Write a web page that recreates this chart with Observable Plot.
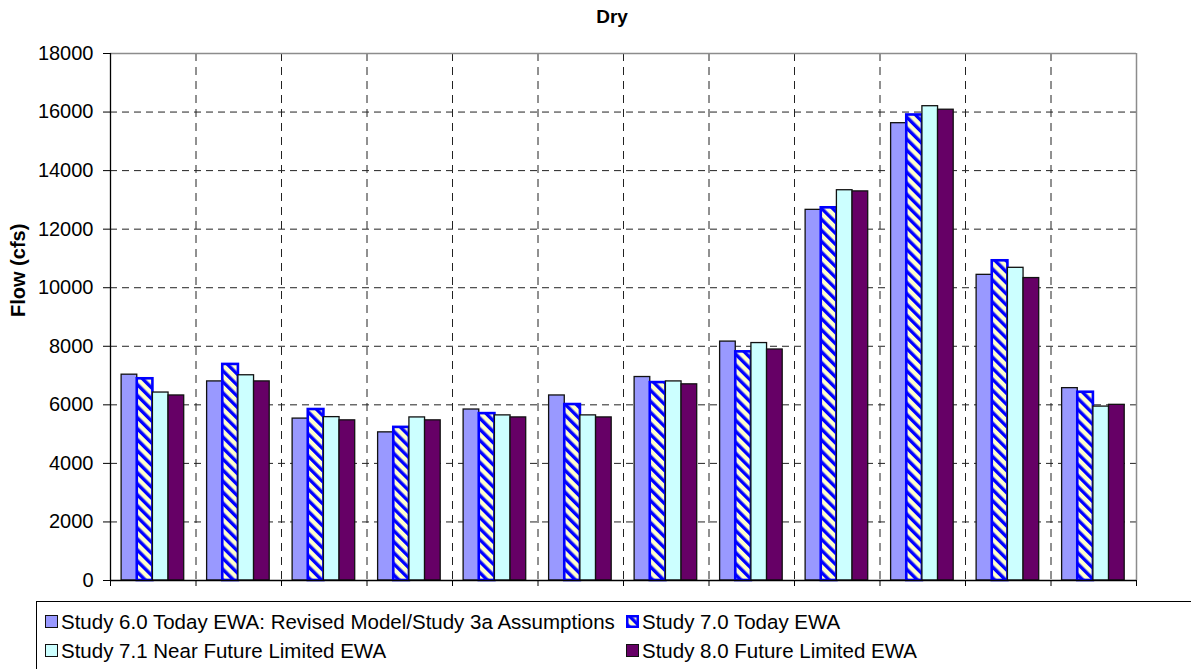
<!DOCTYPE html>
<html>
<head>
<meta charset="utf-8">
<script src="https://cdn.jsdelivr.net/npm/d3@7"></script>
<script src="https://cdn.jsdelivr.net/npm/@observablehq/plot@0.6"></script>
<style>
  html, body { margin: 0; padding: 0; background: #fff; }
  body { font-family: "Liberation Sans", Arial, sans-serif; }
  #chart { position: relative; width: 1191px; height: 669px; overflow: hidden; background: #fff; }
  #title { position: absolute; top: 6px; left: 612px; transform: translateX(-50%); font-size: 19px; font-weight: bold; line-height: 22px; white-space: nowrap; }
  #plot { position: absolute; top: 40px; left: 0; }
  #legend { position: absolute; top: 601px; left: 36px; width: 1200px; height: 100px; border: 1px solid #000; background: #fff; }
  .item { position: absolute; font-size: 20.5px; line-height: 24px; white-space: nowrap; }
  .item svg { position: absolute; left: 0; top: 5px; }
  .item span { position: absolute; left: 16px; top: 0; }
</style>
</head>
<body>
<div id="chart">
  <div id="title">Dry</div>
  <div id="plot"></div>
  <div id="legend"></div>
</div>
<script>
// ---- data ----
const months = ["Oct", "Nov", "Dec", "Jan", "Feb", "Mar", "Apr", "May", "Jun", "Jul", "Aug", "Sep"];
const seriesNames = [
  "Study 6.0 Today EWA: Revised Model/Study 3a Assumptions",
  "Study 7.0 Today EWA",
  "Study 7.1 Near Future Limited EWA",
  "Study 8.0 Future Limited EWA"
];
const study60 = [7030, 6800, 5530, 5060, 5840, 6320, 6950, 8160, 12660, 15620, 10440, 6570];
const study70 = [6890, 7380, 5840, 5230, 5700, 6010, 6760, 7810, 12730, 15900, 10920, 6430];
const study71 = [6420, 7010, 5580, 5570, 5640, 5640, 6800, 8110, 13330, 16200, 10680, 5940];
const study80 = [6320, 6800, 5470, 5470, 5570, 5570, 6700, 7890, 13290, 16080, 10330, 6000];
const yTicks = [0, 2000, 4000, 6000, 8000, 10000, 12000, 14000, 16000, 18000];

// ---- styling ----
const fills = ["#9999FF", "url(#stripes)", "#CCFFFF", "#660066"];
const strokes = ["#111", "#0000FF", "#111", "#111"];
const strokeWidths = [1.3, 2.6, 1.3, 1.3];

const values = [study60, study70, study71, study80];
const data = months.flatMap((m, i) => values.map((vals, k) => ({month: m, i, k, series: seriesNames[k], value: vals[i]})));

const groupOffset = 0.13, barW = 0.183;
const bx1 = d => d.i + groupOffset + d.k * barW;
const bx2 = d => d.i + groupOffset + (d.k + 1) * barW;

const W = 1191, H = 629;
const plot = Plot.plot({
  width: W,
  height: H,
  marginLeft: 110,
  marginRight: 55,
  marginTop: 13,
  marginBottom: 89,
  style: {fontFamily: "'Liberation Sans', Arial, sans-serif", fontSize: "20px", color: "#000", background: "transparent", overflow: "visible"},
  x: {type: "linear", domain: [0, months.length], axis: null},
  y: {domain: [0, 18000], axis: null},
  marks: [
    Plot.gridY(yTicks.slice(1, -1), {stroke: "#222", strokeOpacity: 1, strokeWidth: 1, strokeDasharray: "7,5"}),
    Plot.gridX(d3.range(1, months.length), {stroke: "#222", strokeOpacity: 1, strokeWidth: 1, strokeDasharray: "8,6"}),
    Plot.ruleY([18000], {stroke: "#8c8c8c", strokeWidth: 1.5}),
    Plot.ruleX([months.length], {stroke: "#8c8c8c", strokeWidth: 1.5}),
    ...[0, 1, 2, 3].map(k => Plot.rect(data.filter(d => d.k === k), {
      x1: bx1, x2: bx2, y1: () => 0, y2: "value",
      fill: fills[k], stroke: strokes[k], strokeWidth: strokeWidths[k], inset: 0
    })),
    Plot.ruleY([0], {stroke: "#000", strokeWidth: 1.3}),
    Plot.ruleX([0], {stroke: "#000", strokeWidth: 1.3}),
    Plot.axisY(yTicks, {tickSize: 7, tickPadding: 10, tickFormat: d3.format("d"), fontSize: 20, stroke: "#000", label: null}),
    Plot.axisX(d3.range(0, months.length + 1), {tickSize: 6, tickFormat: () => "", stroke: "#000", label: null}),
    Plot.text(months.map((m, i) => ({m, c: i + 0.5})), {x: "c", y: () => 0, text: "m", dy: 32, fontSize: 20}),
    Plot.text(["Flow (cfs)"], {frameAnchor: "left", dx: -92, rotate: -90, fontWeight: "bold", fontSize: 20})
  ]
});

// pattern for the striped series
const svgNS = "http://www.w3.org/2000/svg";
function addStripePattern(svg, id) {
  const defs = document.createElementNS(svgNS, "defs");
  defs.innerHTML = `<pattern id="${id}" patternUnits="userSpaceOnUse" width="7.8" height="7.8" patternTransform="rotate(-45)">
      <rect width="7.8" height="7.8" fill="#FFFFCC"></rect>
      <rect width="3.4" height="7.8" fill="#0000FF"></rect>
    </pattern>`;
  svg.insertBefore(defs, svg.firstChild);
}
const svgEl = plot.tagName.toLowerCase() === "svg" ? plot : plot.querySelector("svg");
addStripePattern(svgEl, "stripes");
document.getElementById("plot").appendChild(plot);

// ---- legend ----
const legendPos = [
  {left: 8, top: 8},
  {left: 589, top: 8},
  {left: 8, top: 37},
  {left: 589, top: 37}
];
const legend = document.getElementById("legend");
seriesNames.forEach((name, k) => {
  const div = document.createElement("div");
  div.className = "item";
  div.style.left = legendPos[k].left + "px";
  div.style.top = legendPos[k].top + "px";
  const fill = k === 1 ? "url(#stripesLegend)" : fills[k];
  div.innerHTML = `<svg width="13" height="13">
      ${k === 1 ? `<defs><pattern id="stripesLegend" patternUnits="userSpaceOnUse" width="7.8" height="7.8" patternTransform="rotate(-45)"><rect width="7.8" height="7.8" fill="#FFFFCC"></rect><rect width="3.4" height="7.8" fill="#0000FF"></rect></pattern></defs>` : ""}
      <rect x="${k === 1 ? 1.25 : 0.5}" y="${k === 1 ? 1.25 : 0.5}" width="${k === 1 ? 10.5 : 12}" height="${k === 1 ? 10.5 : 12}" fill="${fill}" stroke="${strokes[k]}" stroke-width="${k === 1 ? 2.5 : 1}"></rect>
    </svg><span>${name}</span>`;
  legend.appendChild(div);
});
</script>
</body>
</html>
